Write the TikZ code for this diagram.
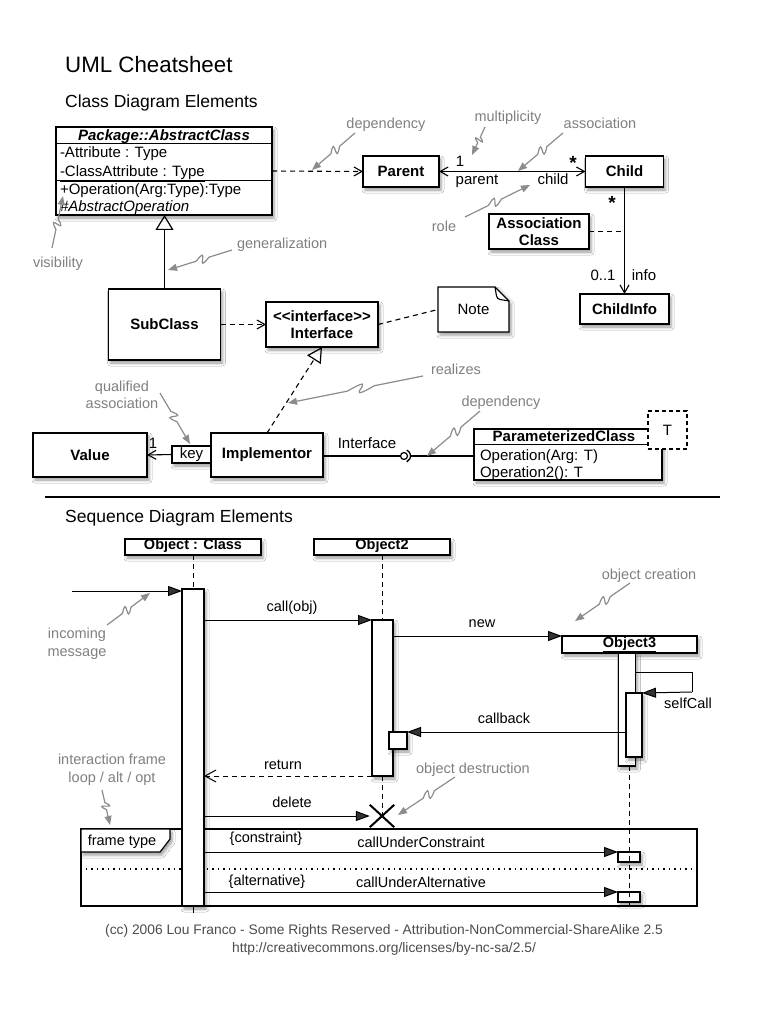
\documentclass[tikz,border=0pt]{standalone}
\usepackage{fontspec}
\setmainfont{Liberation Sans}[Ligatures=TeXOff]
\usetikzlibrary{arrows.meta,calc,shadows,shadows.blur}

\newcommand{\bsz}{\fontsize{15}{17}\selectfont}
\newcommand{\ssz}{\fontsize{14.5}{17}\selectfont}
\newcommand{\squig}[2]{%
  \draw[annot] (#1) -- ($(#1)!0.36!(#2)$)
    .. controls ($(#1)!0.66!(#2)!14pt!90:(#2)$) and ($(#1)!0.26!(#2)!-14pt!90:(#2)$)
    .. ($(#1)!0.56!(#2)$) -- (#2);}

\tikzset{
  shad/.style={blur shadow={shadow xshift=2pt,shadow yshift=-3pt,shadow blur radius=3pt}},
  box/.style={draw, fill=white, line width=1.2pt, inner sep=0pt, outer sep=0pt,
    align=center, font=\bsz\bfseries, shad},
  plainbox/.style={draw, fill=white, line width=1.1pt, inner sep=0pt, outer sep=0pt, font=\bsz},
  txt/.style={font=\bsz, inner sep=0pt, outer sep=0pt},
  stxt/.style={font=\ssz, inner sep=0pt, outer sep=0pt},
  gtxt/.style={font=\ssz, text=black!50, inner sep=0pt, outer sep=0pt},
  annot/.style={draw=black!45, line width=1.2pt, -{Triangle[length=9pt,width=7pt]}},
  depline/.style={line width=1.1pt, dash pattern=on 5pt off 4pt},
  barb/.style={-{Straight Barb[length=8pt,width=9pt]}},
  msg/.style={line width=1pt, -{Triangle[length=14pt,width=10pt]}},
  life/.style={line width=1pt, dash pattern=on 5pt off 4pt},
  act/.style={draw, fill=white, line width=1.1pt, inner sep=0pt, outer sep=0pt, shad},
}

\begin{document}
\begin{tikzpicture}[x=1pt,y=-1pt]
\path[use as bounding box, fill=white] (0,0) rectangle (768,1024);

% ---------- titles ----------
\node[anchor=base west, inner sep=0pt, font=\fontsize{22.3}{26}\selectfont] (title) at (65,73) {UML Cheatsheet};
\node[anchor=base west, inner sep=0pt, font=\fontsize{17.5}{20}\selectfont] (h1) at (65,108) {Class Diagram Elements};

% ---------- abstract class ----------
\node[box, minimum width=216pt, minimum height=88pt] (ac) at (164,171) {};
\draw[line width=1pt] (ac.west |- 0,144) -- (ac.east |- 0,144)
                      (ac.west |- 0,181) -- (ac.east |- 0,181);
\node[txt, anchor=base, font=\bsz\bfseries\itshape] (acname) at (164,141) {Package::AbstractClass};
\node[txt, anchor=base west] (attr1) at (60,158) {-Attribute : Type};
\node[txt, anchor=base west] (attr2) at (60,177) {\underline{-ClassAttribute : Type}};
\node[txt, anchor=base west] (op1) at (60,195) {+Operation(Arg:Type):Type};
\node[txt, anchor=base west, font=\bsz\itshape] (op2) at (60,212) {\#AbstractOperation};

% ---------- parent / child ----------
\node[box, minimum width=76pt, minimum height=31pt] (parent) at (401,171.5) {Parent};
\node[box, minimum width=78pt, minimum height=31pt] (child) at (624.5,171.5) {Child};
\node[box, minimum width=100pt, minimum height=35pt] (assoc) at (539,231.5) {Association\\Class};
\node[box, minimum width=89pt, minimum height=30pt] (cinfo) at (624.5,309) {ChildInfo};

\draw[depline, barb] (ac.east) -- (parent.west);
\draw[line width=1.1pt, {Straight Barb[length=8pt,width=9pt]}-{Straight Barb[length=8pt,width=9pt]}] (parent.east) -- (child.west);
\draw[line width=1.1pt, barb] (child.south) -- (cinfo.north);
\draw[depline] (assoc.east) -- (assoc.east -| child.south);

\node[txt, anchor=base] (m1) at (460,167) {1};
\node[txt, anchor=base] (rparent) at (477,185) {parent};
\node[txt, anchor=base] (rchild) at (553,185) {child};
\node[txt, anchor=base, font=\fontsize{19}{20}\selectfont\bfseries] (mstar1) at (573,170) {*};
\node[txt, anchor=base, font=\fontsize{19}{20}\selectfont\bfseries] (mstar2) at (612,210) {*};
\node[txt, anchor=base] (m01) at (603,280) {0..1};
\node[txt, anchor=base] (rinfo) at (644,280) {info};

% ---------- subclass / interface / note ----------
\node[box, minimum width=112pt, minimum height=71pt] (sub) at (164.5,324.5) {SubClass};
\node[box, minimum width=112pt, minimum height=45pt] (iface) at (322,324.5) {\textless\textless interface\textgreater\textgreater\\Interface};
\path[draw, fill=white, line width=1.2pt, shad] (438,287) -- (495,287) -- (509,301) -- (509,332) -- (438,332) -- cycle;
\draw[line width=1.1pt, rounded corners=3pt] (495,287) -- (497,299) -- (509,301);
\node[txt, minimum width=71pt, minimum height=45pt] (note) at (473.5,309.5) {Note};

\draw[line width=1.2pt, -{Triangle[open, length=15pt, width=18pt, line width=1.2pt]}] (sub.north) -- (sub.north |- ac.south);
\draw[depline, barb] (sub.east) -- (iface.west);
\draw[depline] (iface.east) -- (note.west);

% ---------- implementor / value / parameterized ----------
\node[box, minimum width=114pt, minimum height=44pt] (value) at (90,455) {Value};
\node[plainbox, shad, minimum width=39pt, minimum height=17pt] (key) at (191.5,454.5) {key};
\node[box, minimum width=112pt, minimum height=44pt] (impl) at (267,455) {Implementor};

\draw[depline, -{Triangle[open, length=15pt, width=16pt, line width=1.2pt]}] (impl.north) -- (iface.south);
\draw[line width=1.1pt, barb] (key.west) -- (value.east);
\node[txt, anchor=base] (m1b) at (153,448) {1};

\node[box, minimum width=188pt, minimum height=51pt] (pc) at (568,454.5) {};
\draw[line width=1pt] (pc.west |- 0,444) -- (pc.east |- 0,444);
\node[txt, anchor=base, font=\bsz\bfseries] (pcname) at (564,441) {ParameterizedClass};
\node[txt, anchor=base west] (pcop1) at (480,460) {Operation(Arg: T)};
\node[txt, anchor=base west] (pcop2) at (480,477) {Operation2(): T};
\node[plainbox, dash pattern=on 4pt off 3pt, minimum width=39pt, minimum height=38pt] (tpar) at (667.5,430) {T};

\node[circle, draw, line width=1.2pt, inner sep=0pt, minimum size=7pt] (ball) at (404,456) {};
\coordinate (sock) at (410.5,456);
\draw[line width=1.1pt] (impl.east |- ball) -- (ball.west);
\draw[line width=1.3pt] (ball.center) ++(-65:6.5) arc[start angle=-65, end angle=65, radius=6.5];
\draw[line width=1.1pt] (sock) -- (sock -| pc.west);
\node[txt, anchor=base] (ifacelbl) at (367,448) {Interface};

% ---------- annotations (class) ----------
\node[gtxt, anchor=base] (a_dep) at (386,129) {dependency};
\node[gtxt, anchor=base] (a_mul) at (508,122) {multiplicity};
\node[gtxt, anchor=base] (a_ass) at (600,129) {association};
\node[gtxt, anchor=base] (a_role) at (444,232) {role};
\node[gtxt, anchor=base west] (a_gen) at (237,248) {generalization};
\node[gtxt, anchor=base] (a_vis) at (58,267) {visibility};
\node[gtxt, anchor=base] (a_q1) at (122,391) {qualified};
\node[gtxt, anchor=base] (a_q2) at (122,408) {association};
\node[gtxt, anchor=base] (a_real) at (456,374) {realizes};
\node[gtxt, anchor=base] (a_dep2) at (501,406) {dependency};

\coordinate (s1) at (355,133); \coordinate (t1) at (312,170);
\coordinate (s2) at (485,127); \coordinate (t2) at (472,155);
\coordinate (s3) at (563,133); \coordinate (t3) at (518,171);
\coordinate (s4) at (465,217); \coordinate (t4) at (530,185);
\coordinate (s5) at (232,250); \coordinate (t5) at (168,270);
\coordinate (s6) at (52,248);  \coordinate (t6) at (63,196);
\coordinate (s7) at (160,393); \coordinate (t7) at (190,444);
\coordinate (s8) at (423,376); \coordinate (t8) at (288,403);
\coordinate (s9) at (480,411); \coordinate (t9) at (427,456);
\squig{s1}{t1}\squig{s2}{t2}\squig{s3}{t3}\squig{s4}{t4}\squig{s5}{t5}
\squig{s6}{t6}\squig{s7}{t7}\squig{s8}{t8}\squig{s9}{t9}

% ---------- divider ----------
\coordinate (dl) at (45,497); \coordinate (dr) at (720,497);
\draw[line width=1.6pt] (dl) -- (dr);
\node[anchor=base west, inner sep=0pt, font=\fontsize{17.5}{20}\selectfont] (h2) at (65,522) {Sequence Diagram Elements};

% ---------- sequence diagram ----------
% frame
\node[draw, line width=1.1pt, inner sep=0pt, minimum width=616pt, minimum height=77pt] (frame) at (389,867.5) {};
\draw[line width=1.2pt, dash pattern=on 1.5pt off 4pt] (frame.west |- 0,869) -- (frame.east |- 0,869);
\path[draw, fill=white, line width=1.1pt, shad] (81,829) -- (170,829) -- (170,839) -- (160,852) -- (81,852) -- cycle;
\node[stxt, anchor=base] (ftype) at (122,845) {frame type};

% heads
\node[box, font=\ssz\bfseries, minimum width=136pt, minimum height=16pt] (o1) at (193,547) {\underline{Object : Class}};
\node[box, font=\ssz\bfseries, minimum width=136pt, minimum height=16pt] (o2) at (382,547) {\underline{Object2}};
\node[box, font=\ssz\bfseries, minimum width=135pt, minimum height=17pt] (o3) at (629.5,644.5) {\underline{Object3}};

% activations
\node[act, minimum width=22pt, minimum height=317pt] (a1) at (193,747.5) {};
\node[act, minimum width=21pt, minimum height=156pt] (a2) at (382.5,698) {};
\node[act, minimum width=18pt, minimum height=17pt] (a2b) at (398,740.5) {};
\node[act, minimum width=17pt, minimum height=113pt] (a3) at (627,709.5) {};
\node[act, minimum width=16pt, minimum height=64pt] (a3b) at (634,725) {};
\node[act, minimum width=22pt, minimum height=10pt] (c1) at (629,857) {};
\node[act, minimum width=22pt, minimum height=10pt] (c2) at (629,897) {};
\node[minimum width=24pt, minimum height=22pt, inner sep=0pt] (xd) at (382,816) {};
\draw[line width=2pt] (xd.north west) -- (xd.south east) (xd.north east) -- (xd.south west);

% lifelines
\coordinate (o3end) at (629.5,909);
\draw[life] (o1.south) -- (a1.north);
\draw[line width=1pt] (a1.south) -- ++(0,7);
\draw[life] (o2.south) -- (o2.south |- a2.north);
\draw[life] (o2.south |- a2.south) -- (xd.center);
\draw[life] (o3.south |- a3.south) -- (o3end);

% messages
\coordinate (in0) at (72,591);
\draw[msg] (in0) -- (in0 -| a1.west);
\draw[msg] (a1.east |- a2.north) -- (a2.north west);
\draw[msg] (a2.east |- o3.north west) -- (o3.north west);
\draw[line width=1pt] (a3.east |- 0,672) -- (692,672) -- (692,692);
\draw[msg] (692,692) -- (a3b.north east);
\draw[msg] (a3b.west |- a2b.north) -- (a2b.north east);
\draw[line width=1pt, dash pattern=on 5pt off 4pt, -{Straight Barb[length=11pt,width=12pt]}] (a2.south west) -- (a2.south west -| a1.east);
\draw[msg] (a1.east |- xd) -- (xd.west);
\draw[msg] (a1.east |- c1.north) -- (c1.north west);
\draw[msg] (a1.east |- c2.north) -- (c2.north west);

\node[stxt, anchor=base] (l_call) at (292,611) {call(obj)};
\node[stxt, anchor=base] (l_new) at (482,627) {new};
\node[stxt, anchor=base] (l_self) at (688,708) {selfCall};
\node[stxt, anchor=base] (l_cb) at (504,723) {callback};
\node[stxt, anchor=base] (l_ret) at (283,769) {return};
\node[stxt, anchor=base] (l_del) at (292,807) {delete};
\node[stxt, anchor=base] (l_c1) at (266,842) {\{constraint\}};
\node[stxt, anchor=base] (l_c2) at (421,847) {callUnderConstraint};
\node[stxt, anchor=base] (l_a1) at (267,885) {\{alternative\}};
\node[stxt, anchor=base] (l_a2) at (421,887) {callUnderAlternative};

% annotations (sequence)
\node[gtxt, anchor=base] (a_in1) at (77,638) {incoming};
\node[gtxt, anchor=base] (a_in2) at (77,656) {message};
\node[gtxt, anchor=base] (a_oc) at (649,579) {object creation};
\node[gtxt, anchor=base] (a_if1) at (112,764) {interaction frame};
\node[gtxt, anchor=base] (a_if2) at (112,782) {loop / alt / opt};
\node[gtxt, anchor=base] (a_od) at (473,773) {object destruction};
\coordinate (s10) at (107,625); \coordinate (t10) at (150,593);
\coordinate (s11) at (630,583); \coordinate (t11) at (575,621);
\coordinate (s12) at (102,790); \coordinate (t12) at (110,825);
\coordinate (s13) at (455,777); \coordinate (t13) at (398,815);
\squig{s10}{t10}\squig{s11}{t11}\squig{s12}{t12}\squig{s13}{t13}

% footer
\node[stxt, anchor=base, font=\fontsize{13.8}{16}\selectfont, text=black!70] (f1) at (384,934) {(cc) 2006 Lou Franco - Some Rights Reserved - Attribution-NonCommercial-ShareAlike 2.5};
\node[stxt, anchor=base, font=\fontsize{13.8}{16}\selectfont, text=black!70] (f2) at (384,952) {http://creativecommons.org/licenses/by-nc-sa/2.5/};
\end{tikzpicture}
\end{document}
